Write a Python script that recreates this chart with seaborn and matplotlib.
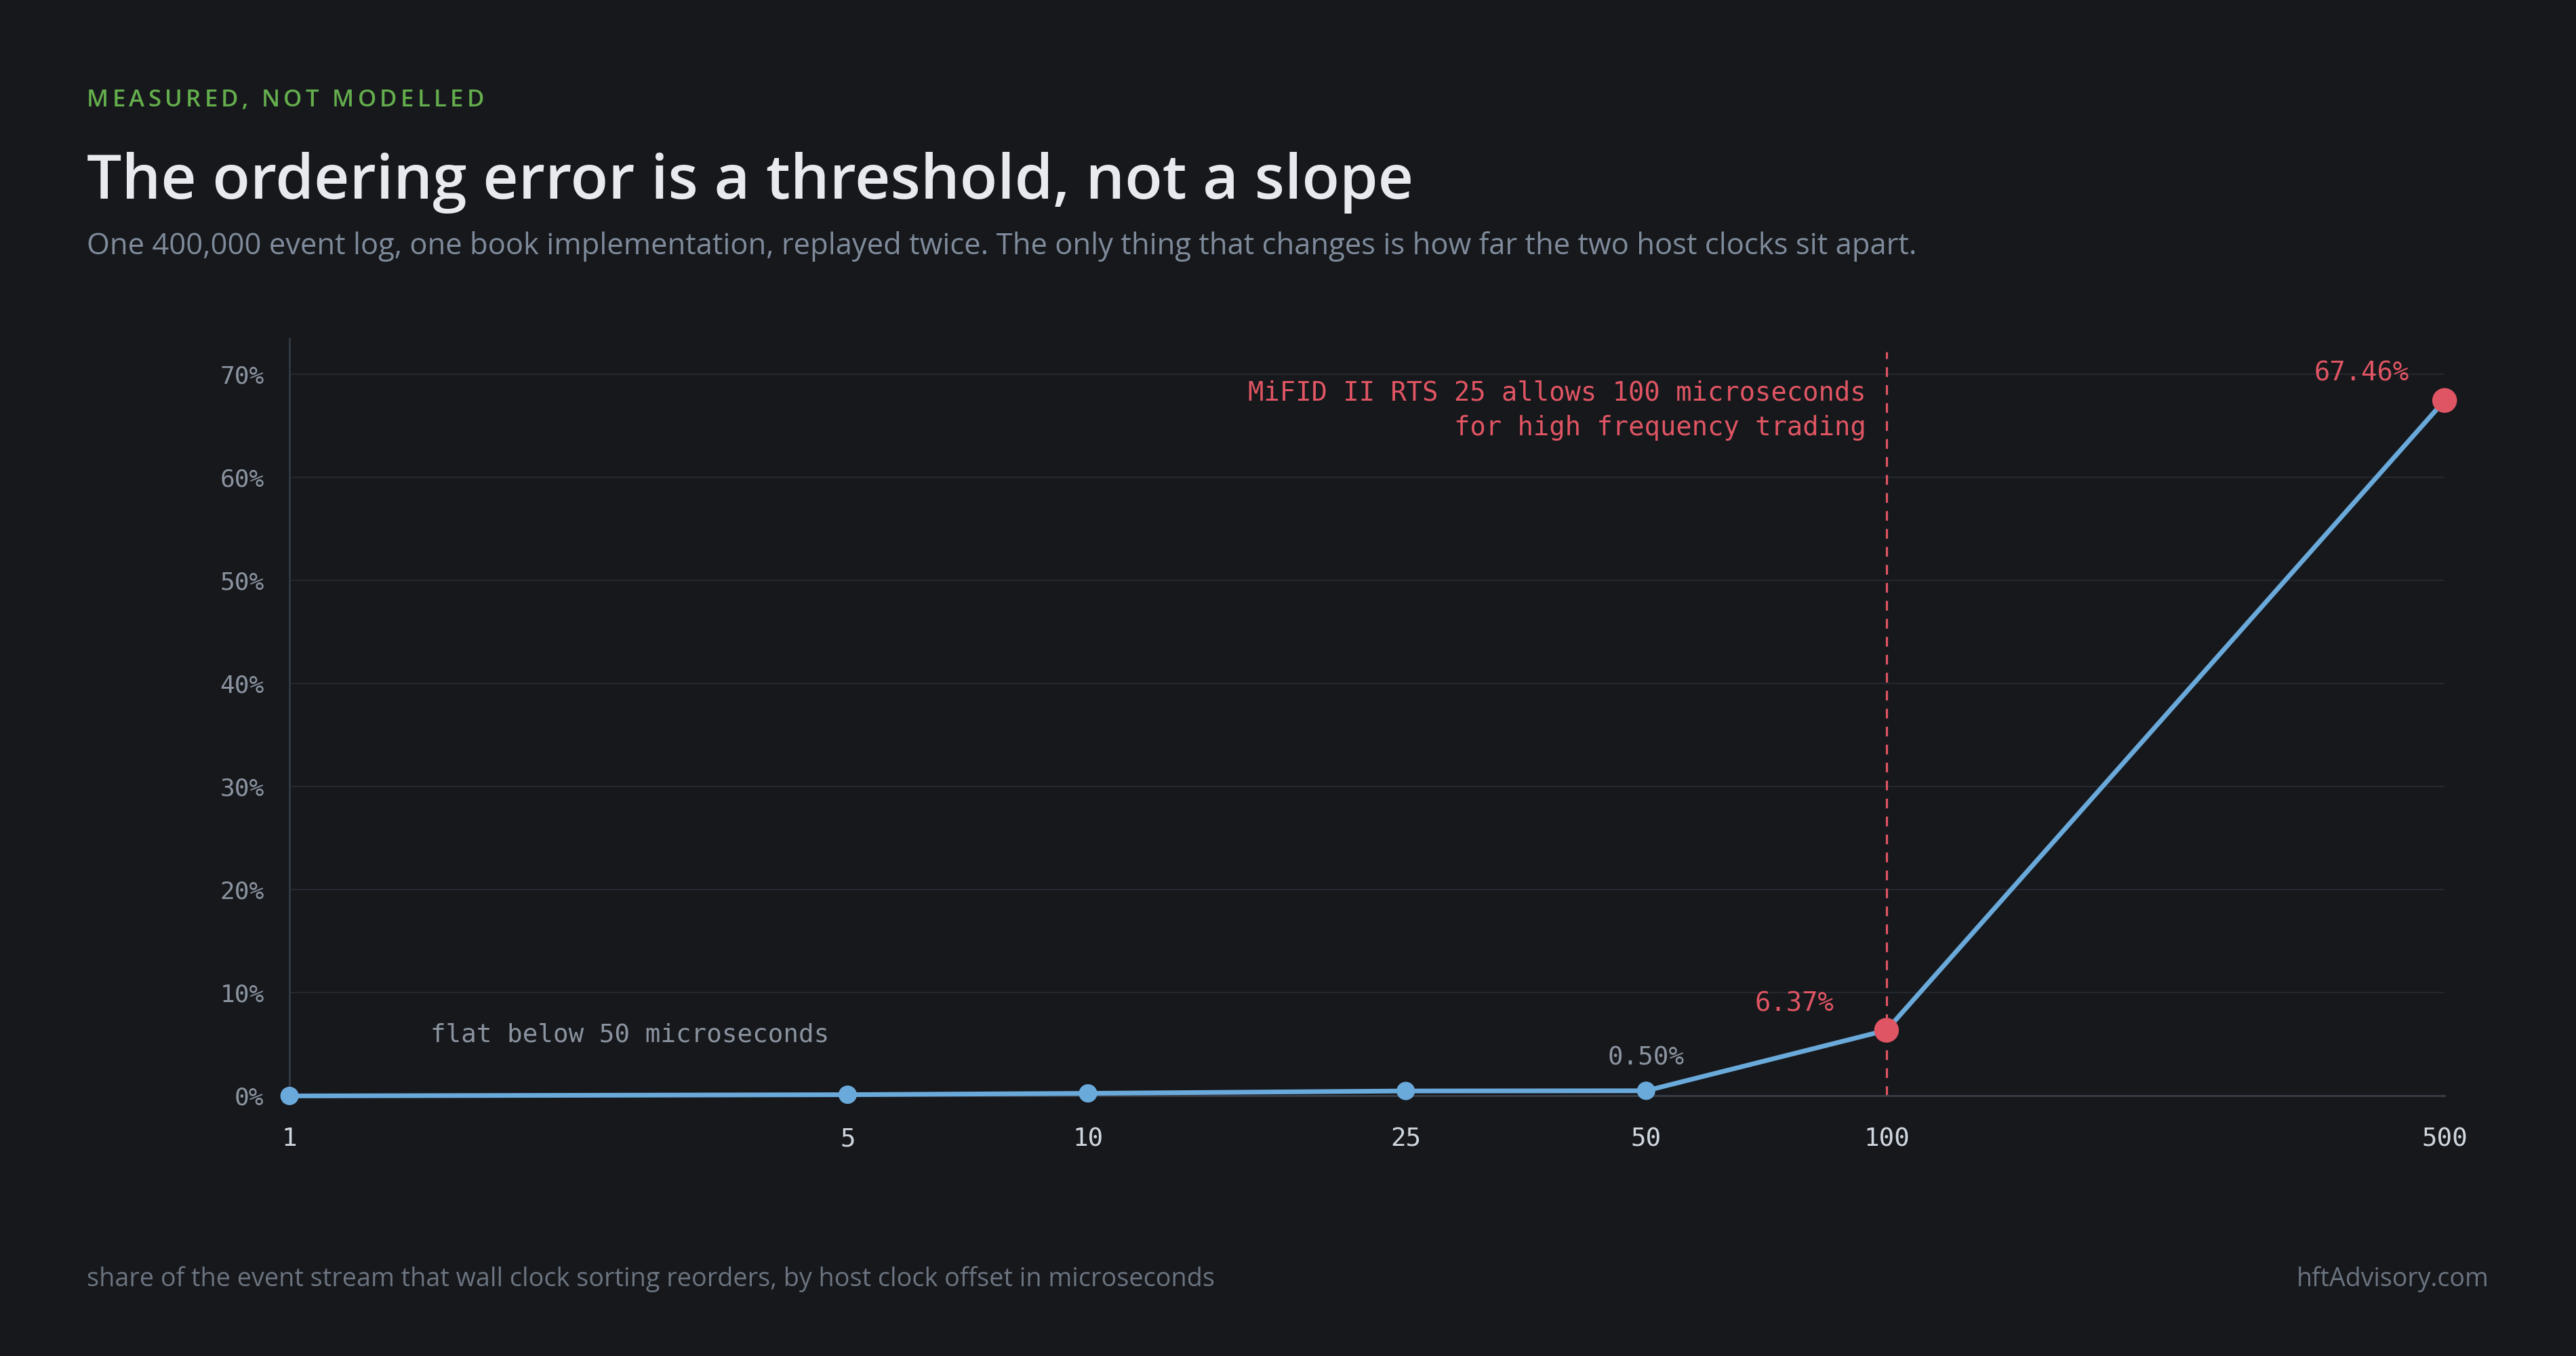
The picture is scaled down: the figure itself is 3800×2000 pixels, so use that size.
import pandas as pd
import matplotlib
matplotlib.use("Agg")
import matplotlib.pyplot as plt
import seaborn as sns

# data
offset_us = [1, 5, 10, 25, 50, 100, 500]
reordered_pct = [0.0, 0.12, 0.25, 0.48, 0.50, 6.37, 67.46]
x_tick_labels = ["1", "5", "10", "25", "50", "100", "500"]
y_ticks = [0, 10, 20, 30, 40, 50, 60, 70]
flagged_offsets = [100, 500]   # drawn in red
mifid_limit_us = 100

BG = "#16181c"
BLUE = "#6aaadb"
RED = "#e05563"
GREEN = "#64ad4c"
GRID = "#252930"
MUTED = "#8a939f"
MONO = ["DejaVu Sans Mono"]

sns.set_theme(style="dark")
plt.rcParams["font.family"] = ["Open Sans", "DejaVu Sans"]

df = pd.DataFrame({"offset": offset_us, "pct": reordered_pct})
df["flag"] = df["offset"].isin(flagged_offsets)

fig = plt.figure(figsize=(38, 20), dpi=100, facecolor=BG)
ax = fig.add_axes([0.1124, 0.1918, 0.8366, 0.5588])
ax.set_facecolor(BG)
ax.set_xscale("log")

sns.lineplot(data=df, x="offset", y="pct", ax=ax, color=BLUE, linewidth=5,
             zorder=3, clip_on=False)
sns.scatterplot(data=df[~df["flag"]], x="offset", y="pct", ax=ax, color=BLUE,
                s=380, edgecolor="none", zorder=4, clip_on=False)
sns.scatterplot(data=df[df["flag"]], x="offset", y="pct", ax=ax, color=RED,
                s=690, edgecolor="none", zorder=5, clip_on=False)

ax.set_xlim(1, 500)
ax.set_ylim(0, 73.5)
ax.set_xticks(offset_us)
ax.set_xticklabels(x_tick_labels)
ax.minorticks_off()
ax.set_yticks(y_ticks)
ax.set_yticklabels([f"{v}%" for v in y_ticks])
ax.set_xlabel("")
ax.set_ylabel("")
ax.tick_params(axis="x", length=0, pad=33, labelsize=27, labelcolor="#d0d6de")
ax.tick_params(axis="y", length=0, pad=27, labelsize=26, labelcolor=MUTED)
for lab in ax.get_xticklabels() + ax.get_yticklabels():
    lab.set_family(MONO)

ax.grid(False)
for v in y_ticks[1:]:
    ax.axhline(v, color=GRID, lw=1.4, zorder=1)
for side in ["top", "right"]:
    ax.spines[side].set_visible(False)
ax.spines["left"].set_color("#343a44")
ax.spines["left"].set_linewidth(2)
ax.spines["bottom"].set_color("#3a3f49")
ax.spines["bottom"].set_linewidth(2)

# regulatory limit
ax.axvline(mifid_limit_us, ymax=0.982, color=RED, lw=2.3, dashes=(4.5, 3.8), zorder=2)
ax.annotate("MiFID II RTS 25 allows 100 microseconds\nfor high frequency trading",
            xy=(mifid_limit_us, 0.905), xycoords=("data", "axes fraction"),
            xytext=(-22, 0), textcoords="offset points", ha="right", va="center",
            multialignment="right", linespacing=1.45, fontsize=28, color=RED,
            family=MONO)

# point labels
pct = dict(zip(offset_us, reordered_pct))
ax.annotate(f"{pct[500]:.2f}%", xy=(500, pct[500]), xytext=(-38, 29),
            textcoords="offset points", ha="right", va="center",
            fontsize=28, color=RED, family=MONO)
ax.annotate(f"{pct[100]:.2f}%", xy=(100, pct[100]), xytext=(-56, 28),
            textcoords="offset points", ha="right", va="center",
            fontsize=28, color=RED, family=MONO)
ax.annotate(f"{pct[50]:.2f}%", xy=(50, pct[50]), xytext=(0, 35),
            textcoords="offset points", ha="center", va="center",
            fontsize=27, color=MUTED, family=MONO)
ax.text(1.5, 5.9, "flat below 50 microseconds", ha="left", va="center",
        fontsize=27, color=MUTED, family=MONO)

# header and footer
title = fig.text(0.0337, 0.8537, "The ordering error is a threshold, not a slope",
                 color="#e8eaf0", fontsize=70, weight="semibold", va="baseline")
subtitle = fig.text(0.0337, 0.8125,
                    "One 400,000 event log, one book implementation, replayed twice. "
                    "The only thing that changes is how far the two host clocks sit apart.",
                    color="#7f8b9b", fontsize=30, va="baseline")
foot_l = fig.text(0.0337, 0.0513,
                  "share of the event stream that wall clock sorting reorders, "
                  "by host clock offset in microseconds",
                  color="#6b7480", fontsize=25, va="baseline")
foot_r = fig.text(0.9663, 0.0513, "hftAdvisory.com", color="#6b7480",
                  fontsize=25, va="baseline", ha="right")

# scale header/footer text to the widths in the reference
fig.canvas.draw()
for t, w in [(title, 1956), (subtitle, 2707), (foot_l, 1663), (foot_r, 284)]:
    t.set_fontsize(t.get_fontsize() * w / t.get_window_extent().width)

# letter-spaced kicker
renderer = fig.canvas.get_renderer()
kicker = "MEASURED, NOT MODELLED"
kick_kw = dict(color=GREEN, fontsize=25, weight="semibold", va="baseline")


def text_width(s):
    t = fig.text(0, 0, s, **kick_kw)
    w = t.get_window_extent(renderer).width
    t.remove()
    return w


bar = text_width("||")
advances = [text_width("|" + ch + "|") - bar for ch in kicker]
spacing = (586 - sum(advances[:-1]) - text_width(kicker[-1])) / (len(kicker) - 1)
x_px = 128
for ch, adv in zip(kicker, advances):
    if ch != " ":
        fig.text(x_px / 3800, 0.9213, ch, **kick_kw)
    x_px += adv + spacing

fig.savefig("out.png", dpi=100, facecolor=BG)
